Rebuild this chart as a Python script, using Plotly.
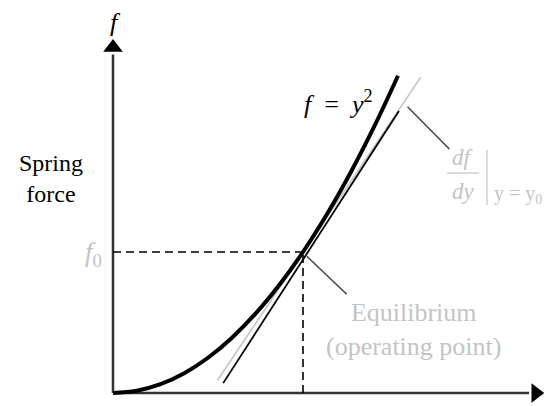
import plotly.graph_objects as go

# ---- data (units: y0 = 1, f0 = 1) ----
curve_y = [0.0, 0.125, 0.25, 0.375, 0.5, 0.625, 0.75, 0.875, 1.0, 1.125, 1.25, 1.375, 1.5]
curve_f = [0.0, 0.0156, 0.0625, 0.1406, 0.25, 0.3906, 0.5625, 0.7656, 1.0, 1.2656, 1.5625, 1.8906, 2.25]
tangent_y = [0.55, 1.62]          # light grey tangent at the operating point
tangent_f = [0.09, 2.24]
approx_y = [0.58, 1.505]          # black linear approximation
approx_f = [0.07, 2.0]
y0, f0 = 1.0, 1.0
yaxis_top, xaxis_end = 2.40, 2.19
eq_leader_y, eq_leader_f = [1.02, 1.23], [0.97, 0.70]
tg_leader_y, tg_leader_f = [1.55, 1.77], [2.03, 1.73]

W, H = 548, 406
SERIF = "Liberation Serif"
GREY = "#c4c4c4"
AX = "#333333"

fig = go.Figure()

def line(xs, ys, color, width, dash=None):
    fig.add_trace(go.Scatter(x=xs, y=ys, mode="lines", hoverinfo="skip",
                             line=dict(color=color, width=width, dash=dash)))

# axes with arrow heads
line([0, 0], [0, yaxis_top], AX, 2.5)
line([0, xaxis_end], [0, 0], AX, 2.5)
fig.add_trace(go.Scatter(x=[0], y=[yaxis_top + 0.05], mode="markers", hoverinfo="skip",
                         marker=dict(symbol="triangle-up", size=17, color="black")))
fig.add_trace(go.Scatter(x=[xaxis_end + 0.035], y=[0], mode="markers", hoverinfo="skip",
                         marker=dict(symbol="triangle-right", size=17, color="black")))

# dashed guides to the operating point
line([0, y0], [f0, f0], "black", 1.6, "8px,5px")
line([y0, y0], [0, f0], "black", 1.6, "8px,5px")

# tangent, approximation, curve
line(tangent_y, tangent_f, GREY, 1.6)
line(approx_y, approx_f, "black", 1.8)
fig.add_trace(go.Scatter(x=curve_y, y=curve_f, mode="lines", hoverinfo="skip",
                         line=dict(color="black", width=4, shape="spline")))

# leader lines
line(eq_leader_y, eq_leader_f, "#444444", 1.5)
line(tg_leader_y, tg_leader_f, "#444444", 1.5)

def ann(text, X, Y, size=24, color="black", xanchor="center"):
    fig.add_annotation(text=text, x=X / W, y=1 - Y / H, xref="paper", yref="paper",
                       showarrow=False, xanchor=xanchor, yanchor="middle",
                       font=dict(family=SERIF, size=size, color=color))

ann("<i>f</i>", 115, 22, size=26)
ann("Spring<br>force", 51, 178)
ann("<i>f</i><sub>0</sub>", 93, 254, size=27, color=GREY)
ann("<i>f</i>  =  <i>y</i><sup>2</sup>", 302, 102, size=26, xanchor="left")
ann("Equilibrium<br>(operating point)", 413, 329, size=26, color=GREY)
ann("<i>df</i>", 463, 157, size=23, color=GREY)
ann("<i>dy</i>", 463, 191, size=23, color=GREY)
ann("y = y<sub>0</sub>", 492, 194, size=20, color=GREY, xanchor="left")
ann("<i>y</i><sub>0</sub>", 303, 416, color=GREY)

# fraction bar and evaluation bar
fig.add_shape(type="line", xref="paper", yref="paper", x0=447 / W, x1=479 / W,
              y0=1 - 173 / H, y1=1 - 173 / H, line=dict(color=GREY, width=1.2))
fig.add_shape(type="line", xref="paper", yref="paper", x0=487 / W, x1=487 / W,
              y0=1 - 150 / H, y1=1 - 205 / H, line=dict(color=GREY, width=1.2))

fig.update_layout(
    width=W, height=H, margin=dict(l=0, r=0, t=0, b=0),
    paper_bgcolor="white", plot_bgcolor="white", showlegend=False,
    font=dict(family=SERIF),
    xaxis=dict(visible=False, range=[-113 / 190, (W - 113) / 190], fixedrange=True),
    yaxis=dict(visible=False, range=[(393 - H) / 141, 393 / 141], fixedrange=True),
)

fig.write_html("out.html", config={"displayModeBar": False},
               post_script="document.body.style.margin='0';document.body.style.overflow='hidden';")
